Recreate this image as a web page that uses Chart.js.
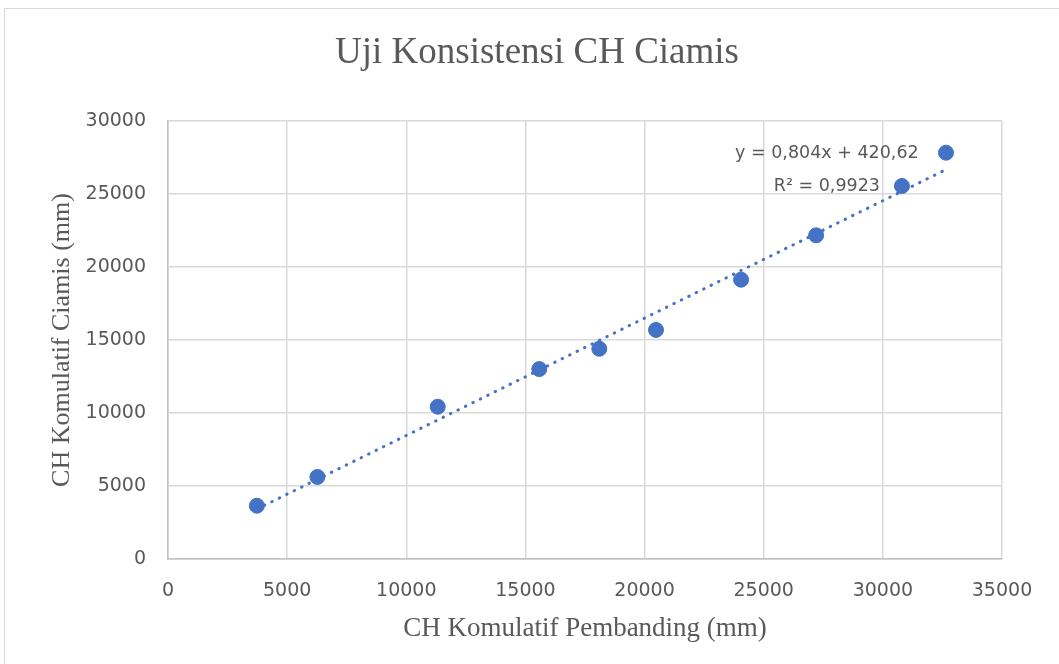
<!DOCTYPE html>
<html>
<head>
<meta charset="utf-8">
<script src="https://cdn.jsdelivr.net/npm/chart.js@4"></script>
<style>
  html, body { margin: 0; padding: 0; background: #fff; }
  #wrap { position: relative; width: 1059px; height: 664px; }
  #frame { position: absolute; left: 4px; top: 8px; width: 1070px; height: 680px; border: 1px solid #d9d9d9; }
  canvas { position: absolute; left: 0; top: 0; }
</style>
</head>
<body>
<div id="wrap">
  <div id="frame"></div>
  <canvas id="chart" width="1059" height="664"></canvas>
</div>
<script>
// Data
const pembanding = [3730, 6270, 11320, 15580, 18100, 20480, 24050, 27200, 30800, 32650];
const ciamis = [3650, 5620, 10430, 13010, 14400, 15690, 19130, 22170, 25550, 27830];
const slope = 0.804;
const intercept = 420.62;
const eqText = 'y = 0,804x + 420,62';
const r2Text = 'R² = 0,9923';

const textColor = '#595959';
const gridColor = '#d9d9d9';
const blue = '#4472C4';
const sansFont = '"DejaVu Sans", sans-serif';
const serifFont = '"Liberation Serif", "Times New Roman", serif';

const points = pembanding.map((x, i) => ({ x: x, y: ciamis[i] }));
const xMin = Math.min(...pembanding);
const xMax = Math.max(...pembanding);
const trend = [
  { x: xMin, y: slope * xMin + intercept },
  { x: xMax, y: slope * xMax + intercept }
];

// title and trendline label drawn on the canvas
const extraText = {
  id: 'extraText',
  afterDraw(chart) {
    const ctx = chart.ctx;
    const xs = chart.scales.x, ys = chart.scales.y;
    ctx.save();
    ctx.fillStyle = textColor;
    ctx.textAlign = 'center';
    ctx.textBaseline = 'middle';
    ctx.font = '37px ' + serifFont;
    ctx.fillText('Uji Konsistensi CH Ciamis', 537, 53);
    ctx.font = '17.5px ' + sansFont;
    const cx = xs.getPixelForValue(27650);
    ctx.fillText(eqText, cx, ys.getPixelForValue(27750));
    ctx.fillText(r2Text, cx, ys.getPixelForValue(25550));
    ctx.restore();
  }
};

new Chart(document.getElementById('chart').getContext('2d'), {
  type: 'scatter',
  data: {
    datasets: [
      {
        label: 'CH Ciamis',
        data: points,
        backgroundColor: blue,
        borderColor: blue,
        pointRadius: 7.5,
        order: 1
      },
      {
        label: 'Linear',
        type: 'line',
        data: trend,
        borderColor: blue,
        borderWidth: 3,
        borderDash: [0.5, 7.8],
        borderCapStyle: 'round',
        pointRadius: 0,
        fill: false,
        order: 2
      }
    ]
  },
  options: {
    responsive: false,
    animation: false,
    layout: { padding: { top: 121, right: 57, left: 0, bottom: 0 } },
    plugins: {
      legend: { display: false },
      title: { display: false },
      tooltip: { enabled: false }
    },
    scales: {
      x: {
        type: 'linear',
        min: 0,
        max: 35000,
        ticks: {
          stepSize: 5000,
          color: textColor,
          padding: 21,
          font: { family: sansFont, size: 19 },
          callback: v => String(v)
        },
        grid: { color: gridColor, lineWidth: 1.5, drawTicks: false },
        border: { color: '#bfbfbf', width: 1.5 },
        title: {
          display: true,
          text: 'CH Komulatif Pembanding (mm)',
          color: textColor,
          padding: { top: 19, bottom: 19 },
          font: { family: serifFont, size: 27 }
        },
        afterFit(scale) { scale.height = 105; }
      },
      y: {
        min: 0,
        max: 30000,
        ticks: {
          stepSize: 5000,
          color: textColor,
          padding: 22,
          font: { family: sansFont, size: 19 },
          callback: v => String(v)
        },
        grid: { color: gridColor, lineWidth: 1.5, drawTicks: false },
        border: { color: '#bfbfbf', width: 1.5 },
        title: {
          display: true,
          text: 'CH Komulatif Ciamis (mm)',
          color: textColor,
          padding: { top: 47, bottom: 47 },
          font: { family: serifFont, size: 26 }
        },
        afterFit(scale) { scale.width = 168; }
      }
    }
  },
  plugins: [extraText]
});
</script>
</body>
</html>
